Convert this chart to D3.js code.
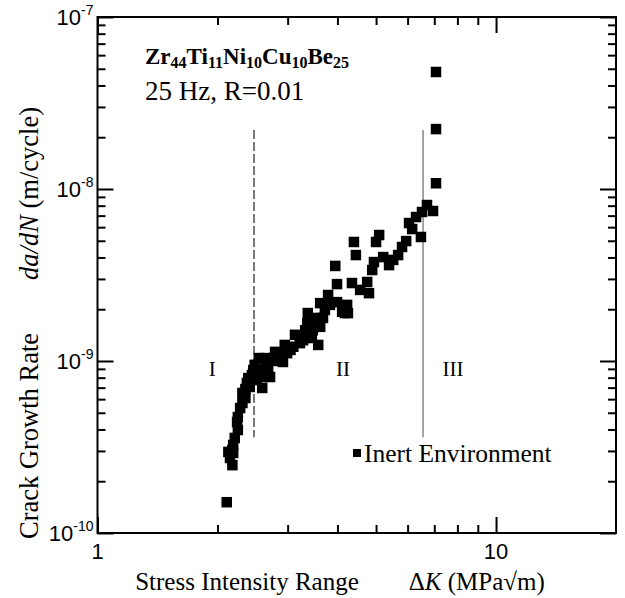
<!DOCTYPE html>
<html>
<head>
<meta charset="utf-8">
<script src="https://cdn.jsdelivr.net/npm/d3@7"></script>
<style>
  body { margin: 0; background: #fff; }
</style>
</head>
<body>
<div id="chart"></div>
<script>
// ΔK (MPa√m) and da/dN (m/cycle)
const deltaK = [7.07, 7.07, 7.07, 6.71, 6.95, 6.52, 6.30, 6.05, 6.16, 6.48,
  5.95, 5.81, 5.68, 5.52, 5.39, 5.21, 5.09, 5.00, 4.94, 4.89,
  4.40, 4.45, 4.35, 4.56, 4.75, 4.80, 4.23, 4.25, 4.11, 3.95,
  3.99, 3.79, 3.62, 3.99, 4.18, 3.37, 3.56, 3.36, 3.68, 3.62,
  3.47, 3.28, 3.45, 3.58, 3.22, 3.10, 2.99, 2.87, 2.76, 2.92,
  2.68, 2.60, 2.54, 2.46, 2.59, 2.71, 2.44, 2.51, 2.59, 2.37,
  2.35, 2.41, 2.31, 2.35, 2.31, 2.28, 2.25, 2.24, 2.25, 2.21,
  2.19, 2.18, 2.13, 2.19, 2.15, 2.18, 2.11, 3.22, 3.05, 2.84,
  2.64, 2.48, 3.13, 3.32, 3.41, 3.72, 3.83, 2.95, 2.79, 2.63,
  2.53, 2.39]
const dadN = [4.79e-8, 2.23e-8, 1.08e-8, 8.07e-9, 7.45e-9, 7.35e-9, 6.87e-9, 6.34e-9, 5.85e-9, 5.26e-9,
  4.98e-9, 4.60e-9, 4.13e-9, 3.87e-9, 3.61e-9, 4.02e-9, 5.40e-9, 4.92e-9, 3.76e-9, 3.38e-9,
  4.92e-9, 4.13e-9, 2.84e-9, 2.59e-9, 2.88e-9, 2.48e-9, 2.12e-9, 1.90e-9, 1.93e-9, 3.57e-9,
  2.80e-9, 2.42e-9, 2.17e-9, 2.20e-9, 1.90e-9, 1.90e-9, 1.78e-9, 1.66e-9, 1.78e-9, 1.58e-9,
  1.51e-9, 1.32e-9, 1.36e-9, 1.24e-9, 1.27e-9, 1.21e-9, 1.11e-9, 1.08e-9, 1.04e-9, 9.87e-10,
  9.23e-10, 8.87e-10, 1.04e-9, 8.87e-10, 8.07e-10, 8.07e-10, 8.29e-10, 7.75e-10, 6.97e-10, 7.45e-10,
  6.87e-10, 7.06e-10, 6.52e-10, 6.09e-10, 5.70e-10, 5.33e-10, 4.72e-10, 4.42e-10, 3.97e-10, 3.57e-10,
  3.25e-10, 3.04e-10, 2.96e-10, 2.92e-10, 2.73e-10, 2.48e-10, 1.51e-10, 1.40e-9, 1.16e-9, 1.00e-9,
  9.87e-10, 9.50e-10, 1.42e-9, 1.51e-9, 1.73e-9, 1.98e-9, 2.12e-9, 1.24e-9, 1.13e-9, 1.04e-9,
  8.87e-10, 7.96e-10]

const xMajor = [1, 10]
const xMinor = [2, 3, 4, 5, 6, 7, 8, 9]
const yMajor = [1e-10, 1e-9, 1e-8, 1e-7]
const yExp = [-10, -9, -8, -7]
const yMinor = [1e-10, 1e-9, 1e-8].flatMap(d => [2, 3, 4, 5, 6, 7, 8, 9].map(m => m * d))

// regime boundaries (ΔK) and their vertical extent
const regimeBounds = [2.47, 6.56]
const regimeSpan = [3.6e-10, 2.2e-8]
const regimeLabels = [{ k: 1.94, t: 'I' }, { k: 4.13, t: 'II' }, { k: 7.8, t: 'III' }]
const regimeLabelY = 8.1e-10

const width = 625
const height = 598
const margin = { top: 17, left: 97.5, right: 9, bottom: 65 }
const serif = 'Liberation Serif, Times New Roman, serif'
const sans = 'Liberation Sans, Arial, sans-serif'

let svg = d3.select('#chart').append('svg')
  .attr('width', width)
  .attr('height', height)

let xScale = d3.scaleLog().domain([1, 20]).range([margin.left, width - margin.right])
let yScale = d3.scaleLog().domain([1e-10, 1e-7]).range([height - margin.bottom, margin.top])

const x0 = xScale.range()[0], x1 = xScale.range()[1]
const y0 = yScale.range()[0], y1 = yScale.range()[1]

function tickAxis(axis, transform, len) {
  let g = svg.append('g')
    .attr('transform', transform)
    .call(axis.tickSizeInner(len).tickSizeOuter(0).tickFormat(''))
  g.select('.domain').remove()
  g.selectAll('.tick line').attr('stroke', '#000').attr('stroke-width', 2)
  return g
}

// ticks all point into the frame
tickAxis(d3.axisBottom(xScale).tickValues(xMinor), `translate(0,${y0})`, -8)
tickAxis(d3.axisBottom(xScale).tickValues(xMajor), `translate(0,${y0})`, -16)
tickAxis(d3.axisTop(xScale).tickValues(xMinor), `translate(0,${y1})`, -8)
tickAxis(d3.axisTop(xScale).tickValues(xMajor), `translate(0,${y1})`, -16)
tickAxis(d3.axisLeft(yScale).tickValues(yMinor), `translate(${x0},0)`, -8)
tickAxis(d3.axisLeft(yScale).tickValues(yMajor), `translate(${x0},0)`, -16)
tickAxis(d3.axisRight(yScale).tickValues(yMinor), `translate(${x1},0)`, -8)
tickAxis(d3.axisRight(yScale).tickValues(yMajor), `translate(${x1},0)`, -16)

svg.append('rect')
  .attr('x', x0).attr('y', y1)
  .attr('width', x1 - x0).attr('height', y0 - y1)
  .attr('fill', 'none').attr('stroke', '#000').attr('stroke-width', 2)

// tick labels
svg.selectAll('.xlab')
  .data(xMajor)
  .join('text')
  .attr('class', 'xlab')
  .attr('x', d => xScale(d))
  .attr('y', y0 + 26)
  .attr('text-anchor', 'middle')
  .attr('font-family', sans)
  .attr('font-size', '22px')
  .text(d => d)

let ylab = svg.selectAll('.ylab')
  .data(yMajor)
  .join('text')
  .attr('class', 'ylab')
  .attr('x', x0 - 4)
  .attr('y', d => yScale(d) + 8)
  .attr('text-anchor', 'end')
  .attr('font-family', sans)
  .attr('font-size', '22px')
ylab.append('tspan').text('10')
ylab.append('tspan')
  .attr('dy', -10)
  .attr('font-size', '14px')
  .text((d, i) => yExp[i])

// axis titles
let xt = svg.append('text')
  .attr('x', 340).attr('y', 590)
  .attr('text-anchor', 'middle')
  .attr('font-family', serif)
  .attr('font-size', '25px')
xt.append('tspan').text('Stress Intensity Range\u2003\u2003\u0394')
xt.append('tspan').attr('font-style', 'italic').text('K')
xt.append('tspan').text(' (MPa\u221Am)')

let yt = svg.append('text')
  .attr('transform', 'translate(38,323) rotate(-90)')
  .attr('text-anchor', 'middle')
  .attr('font-family', serif)
  .attr('font-size', '26.5px')
yt.append('tspan').text('Crack Growth Rate\u2003\u2003')
yt.append('tspan').attr('font-style', 'italic').text('da/dN')
yt.append('tspan').text(' (m/cycle)')

// composition and test conditions
let comp = svg.append('text')
  .attr('x', 145).attr('y', 64)
  .attr('font-family', serif)
  .attr('font-weight', 'bold')
  .attr('font-size', '23px')
const parts = [['Zr', '44'], ['Ti', '11'], ['Ni', '10'], ['Cu', '10'], ['Be', '25']]
parts.forEach(p => {
  comp.append('tspan').text(p[0])
  comp.append('tspan').attr('font-size', '16px').attr('baseline-shift', '-4px').text(p[1])
})

svg.append('text')
  .attr('x', 145).attr('y', 100)
  .attr('font-family', serif)
  .attr('font-size', '27px')
  .text('25 Hz, R=0.01')

// regime boundaries
svg.selectAll('.bound')
  .data(regimeBounds)
  .join('line')
  .attr('class', 'bound')
  .attr('x1', d => xScale(d)).attr('x2', d => xScale(d))
  .attr('y1', yScale(regimeSpan[1])).attr('y2', yScale(regimeSpan[0]))
  .attr('stroke', (d, i) => i === 0 ? '#222' : '#888')
  .attr('stroke-width', (d, i) => i === 0 ? 1.2 : 1.5)
  .attr('stroke-dasharray', (d, i) => i === 0 ? '9,3' : null)

svg.selectAll('.regime')
  .data(regimeLabels)
  .join('text')
  .attr('class', 'regime')
  .attr('x', d => xScale(d.k))
  .attr('y', yScale(regimeLabelY) - 1)
  .attr('text-anchor', 'middle')
  .attr('font-family', serif)
  .attr('font-size', '21px')
  .text(d => d.t)

// data points
const pts = deltaK.map((k, i) => ({ k: k, r: dadN[i] }))
const s = 10.5
svg.selectAll('.pt')
  .data(pts)
  .join('rect')
  .attr('class', 'pt')
  .attr('x', d => xScale(d.k) - s / 2)
  .attr('y', d => yScale(d.r) - s / 2)
  .attr('width', s).attr('height', s)
  .attr('fill', '#000')

// legend
svg.append('rect')
  .attr('x', 353).attr('y', 449)
  .attr('width', 8).attr('height', 8)
  .attr('fill', '#000')
svg.append('text')
  .attr('x', 364).attr('y', 462)
  .attr('font-family', serif)
  .attr('font-size', '25.5px')
  .text('Inert Environment')
</script>
</body>
</html>
